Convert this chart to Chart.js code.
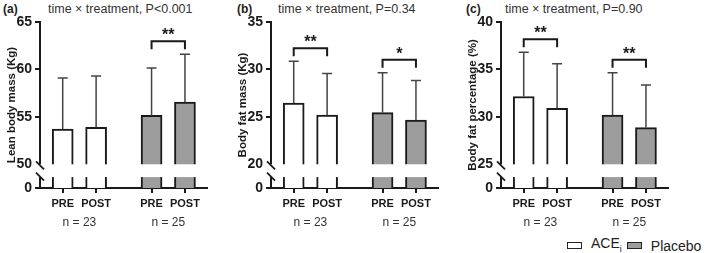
<!DOCTYPE html>
<html>
<head>
<meta charset="utf-8">
<script src="https://cdn.jsdelivr.net/npm/chart.js@4.4.1/dist/chart.umd.min.js"></script>
<style>
  body { margin: 0; background: #fff; font-family: 'Liberation Sans', Arial, sans-serif; }
  #wrap { position: relative; width: 709px; height: 253px; overflow: hidden; }
  .panel { position: absolute; top: 0; }
  .lbl { position: absolute; top: 3px; font-size: 12px; font-weight: bold; color: #222; line-height: 13px; }
  .ttl { position: absolute; top: 2px; font-size: 12.5px; color: #333; line-height: 14px; white-space: nowrap; }
  .legend { position: absolute; left: 567px; top: 235px; display: flex; align-items: center; font-size: 14px; color: #222; line-height: 16px; }
  .key { width: 13px; height: 5px; border: 1.5px solid #222; margin-right: 9px; }
</style>
</head>
<body>
<div id="wrap">
  <div class="lbl" style="left:3px">(a)</div>
  <div class="ttl" style="left:48px">time × treatment, P&lt;0.001</div>
  <div class="lbl" style="left:237px">(b)</div>
  <div class="ttl" style="left:278px">time × treatment, P=0.34</div>
  <div class="lbl" style="left:466px">(c)</div>
  <div class="ttl" style="left:505px">time × treatment, P=0.90</div>

  <div class="panel" style="left:0px"><canvas id="c0" width="210" height="232"></canvas></div>
  <div class="panel" style="left:231px"><canvas id="c1" width="210" height="232"></canvas></div>
  <div class="panel" style="left:461px"><canvas id="c2" width="210" height="232"></canvas></div>

  <div class="legend">
    <span class="key" style="background:#fff"></span>
    <span>ACE<sub style="font-size:9px">i</sub></span>
    <span class="key" style="background:#9d9d9d;margin-left:5px"></span>
    <span>Placebo</span>
  </div>
</div>
<script>
// data
const timeLabels = ['PRE', 'POST', 'PRE', 'POST'];
const groupLabels = ['n = 23', 'n = 25'];

const leanTicks = [50, 55, 60, 65];
const leanAce = [53.7, 53.9];
const leanAceSd = [5.4, 5.4];
const leanPlacebo = [55.15, 56.55];
const leanPlaceboSd = [5.0, 5.05];
const leanSig = ['', '**'];

const fatTicks = [20, 25, 30, 35];
const fatAce = [26.45, 25.2];
const fatAceSd = [4.42, 4.37];
const fatPlacebo = [25.45, 24.65];
const fatPlaceboSd = [4.2, 4.18];
const fatSig = ['**', '*'];

const pctTicks = [25, 30, 35, 40];
const pctAce = [32.15, 30.9];
const pctAceSd = [4.65, 4.7];
const pctPlacebo = [30.2, 28.87];
const pctPlaceboSd = [4.45, 4.48];
const pctSig = ['**', '**'];

// layout
const barX = [0.68, 1.68, 3.34, 4.34];
const groupX = [1.18, 3.84];
const ink = '#1a1a1a';
const font = "'Liberation Sans', Arial, sans-serif";

function makePanel(id, yTitle, ticks, ace, aceSd, pla, plaSd, sig) {
  const means = ace.concat(pla);
  const sds = aceSd.concat(plaSd);
  const lo = ticks[0];
  const step = ticks[1] - ticks[0];
  const yMin = lo - step * 0.5;
  const gapLow = lo - step * 0.27;

  const overlay = {
    id: 'overlay',
    afterDatasetsDraw(chart) {
      const { ctx, chartArea: a, scales: { x, y } } = chart;
      ctx.save();
      // axis break
      const gTop = y.getPixelForValue(lo);
      const gBot = y.getPixelForValue(gapLow);
      ctx.fillStyle = '#fff';
      ctx.fillRect(a.left - 3, gTop, a.right - a.left + 5, gBot - gTop);
      ctx.strokeStyle = ink;
      ctx.lineWidth = 1.8;
      [gTop + 1, gBot - 0.5].forEach(yy => {
        ctx.beginPath();
        ctx.moveTo(a.left - 4, yy - 4);
        ctx.lineTo(a.left + 4, yy + 4);
        ctx.stroke();
      });
      // error bars
      ctx.strokeStyle = '#444';
      ctx.lineWidth = 1.5;
      const ends = [];
      means.forEach((m, i) => {
        const px = x.getPixelForValue(barX[i]);
        const top = y.getPixelForValue(m);
        const end = y.getPixelForValue(m + sds[i]);
        ends.push(end);
        ctx.beginPath();
        ctx.moveTo(px, top);
        ctx.lineTo(px, end);
        ctx.moveTo(px - 5, end);
        ctx.lineTo(px + 5, end);
        ctx.stroke();
      });
      // significance brackets
      ctx.strokeStyle = ink;
      ctx.lineWidth = 2;
      ctx.fillStyle = ink;
      ctx.font = 'bold 16px ' + font;
      ctx.textAlign = 'center';
      ctx.textBaseline = 'alphabetic';
      sig.forEach((s, k) => {
        if (!s) return;
        const x0 = x.getPixelForValue(barX[k * 2]);
        const x1 = x.getPixelForValue(barX[k * 2 + 1]);
        const yb = Math.min(ends[k * 2], ends[k * 2 + 1]) - 13;
        ctx.beginPath();
        ctx.moveTo(x0, yb + 8);
        ctx.lineTo(x0, yb);
        ctx.lineTo(x1, yb);
        ctx.lineTo(x1, yb + 8);
        ctx.stroke();
        ctx.fillText(s, (x0 + x1) / 2, yb - 1);
      });
      ctx.restore();
    }
  };

  return new Chart(document.getElementById(id), {
    type: 'bar',
    data: {
      datasets: [{
        data: barX.map((v, i) => ({ x: v, y: means[i] })),
        backgroundColor: ['#ffffff', '#ffffff', '#9d9d9d', '#9d9d9d'],
        borderColor: ink,
        borderWidth: 2,
        borderSkipped: 'start',
        barThickness: 21
      }]
    },
    options: {
      responsive: false,
      animation: false,
      layout: { padding: { top: 22, right: 3, left: 0, bottom: 0 } },
      scales: {
        x: {
          type: 'linear', min: 0, max: 5, offset: false,
          afterBuildTicks: s => { s.ticks = barX.map(v => ({ value: v })); },
          afterFit: s => { s.height = 25; },
          ticks: {
            callback: (v, i) => timeLabels[i],
            font: { family: font, size: 11, weight: 'bold' },
            color: ink, padding: 4, maxRotation: 0, autoSkip: false
          },
          grid: { drawOnChartArea: false, offset: false, tickLength: 5, lineWidth: 2, color: ink },
          border: { color: ink, width: 2 }
        },
        x2: {
          type: 'linear', position: 'bottom', weight: 1, min: 0, max: 5, offset: false,
          afterBuildTicks: s => { s.ticks = groupX.map(v => ({ value: v })); },
          afterFit: s => { s.height = 19; },
          ticks: {
            callback: (v, i) => groupLabels[i],
            font: { family: font, size: 12 },
            color: '#333', padding: 2, maxRotation: 0, autoSkip: false
          },
          grid: { display: false, drawTicks: false },
          border: { display: false }
        },
        y: {
          type: 'linear', min: yMin, max: ticks[ticks.length - 1], beginAtZero: false,
          afterBuildTicks: s => { s.ticks = [yMin].concat(ticks).map(v => ({ value: v })); },
          afterFit: s => { s.width = 40; },
          ticks: {
            callback: v => (v === yMin ? '0' : String(v)),
            font: { family: font, size: 14, weight: 'bold' },
            color: ink, padding: 3
          },
          grid: {
            drawOnChartArea: false, tickLength: 5, lineWidth: 2, color: ink,
            tickColor: c => (c.tick && c.tick.value === lo ? 'rgba(0,0,0,0)' : ink)
          },
          border: { color: ink, width: 2 },
          title: {
            display: true, text: yTitle, color: ink,
            font: { family: font, size: 11.5, weight: 'bold' },
            padding: { top: 5, bottom: 0 }
          }
        }
      },
      plugins: { legend: { display: false }, tooltip: { enabled: false } }
    },
    plugins: [overlay]
  });
}

makePanel('c0', 'Lean body mass (Kg)', leanTicks, leanAce, leanAceSd, leanPlacebo, leanPlaceboSd, leanSig);
makePanel('c1', 'Body fat mass (Kg)', fatTicks, fatAce, fatAceSd, fatPlacebo, fatPlaceboSd, fatSig);
makePanel('c2', 'Body fat percentage (%)', pctTicks, pctAce, pctAceSd, pctPlacebo, pctPlaceboSd, pctSig);
</script>
</body>
</html>
